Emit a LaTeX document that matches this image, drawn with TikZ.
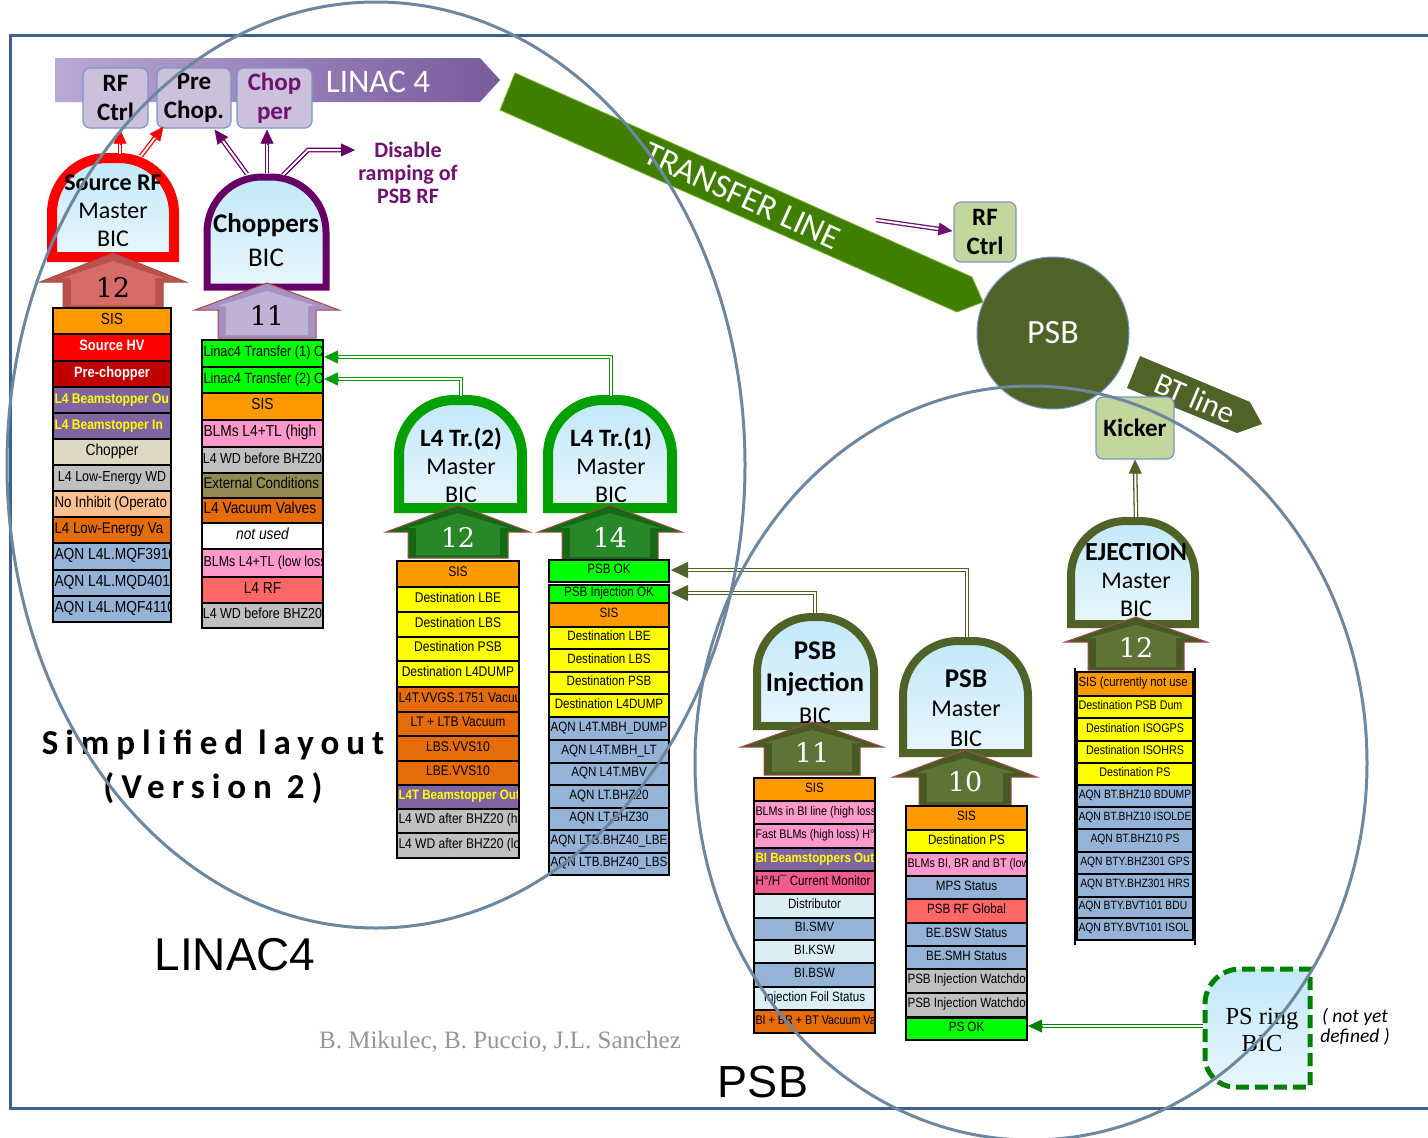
\documentclass[tikz,border=0pt]{standalone}
\usepackage{fontspec}
\usepackage{graphicx}
\usetikzlibrary{arrows.meta,calc}
\newfontfamily\calibf{Carlito}
\newfontfamily\arialf{Liberation Sans}
\newfontfamily\serff{Liberation Serif}
\newfontfamily\numf{DejaVu Serif}
\newfontfamily\spacedf{Carlito}[LetterSpace=20]

\definecolor{frameblue}{RGB}{62,96,140}
\definecolor{ringgray}{RGB}{110,135,160}
\definecolor{cOr}{RGB}{255,153,0}
\definecolor{cRed}{RGB}{255,0,0}
\definecolor{cDRed}{RGB}{192,0,0}
\definecolor{cPurp}{RGB}{128,100,162}
\definecolor{cYel}{RGB}{255,255,0}
\definecolor{cBeige}{RGB}{221,217,195}
\definecolor{cGray}{RGB}{192,192,192}
\definecolor{cPeach}{RGB}{250,192,144}
\definecolor{cDOr}{RGB}{228,108,10}
\definecolor{cBlue}{RGB}{149,179,215}
\definecolor{cGreen}{RGB}{0,255,0}
\definecolor{cPink}{RGB}{255,153,204}
\definecolor{cKhaki}{RGB}{148,138,84}
\definecolor{cSalmon}{RGB}{255,102,102}
\definecolor{cHot}{RGB}{240,90,140}
\definecolor{cIce}{RGB}{219,238,243}
\definecolor{bicred}{RGB}{255,0,0}
\definecolor{bicpurple}{RGB}{102,0,102}
\definecolor{bicgreen}{RGB}{0,160,0}
\definecolor{psbolive}{RGB}{79,98,40}
\definecolor{psgreen}{RGB}{0,128,0}
\definecolor{linacpurple}{RGB}{112,16,112}
\definecolor{tlgreen}{RGB}{64,126,0}
\definecolor{tledge}{RGB}{120,180,40}
\definecolor{boxlav}{RGB}{204,193,218}
\definecolor{boxgreen}{RGB}{195,214,155}
\definecolor{boxedge}{RGB}{120,150,200}
\definecolor{domeTop}{RGB}{195,232,248}
\definecolor{domeBot}{RGB}{232,246,252}
\definecolor{authgray}{RGB}{150,150,150}
\definecolor{banL}{RGB}{186,168,214}
\definecolor{banR}{RGB}{120,90,156}
\definecolor{arrowedge}{RGB}{165,75,70}
\definecolor{redar-base}{RGB}{190,80,76}
\definecolor{redar-in}{RGB}{214,108,103}
\definecolor{redar-txt}{RGB}{0,0,0}
\definecolor{purpar-base}{RGB}{166,146,194}
\definecolor{purpar-in}{RGB}{192,177,215}
\definecolor{purpar-txt}{RGB}{0,0,0}
\definecolor{grnar-base}{RGB}{20,105,20}
\definecolor{grnar-in}{RGB}{40,135,40}
\definecolor{grnar-txt}{RGB}{255,255,255}
\definecolor{olvar-base}{RGB}{72,90,36}
\definecolor{olvar-in}{RGB}{95,115,55}
\definecolor{olvar-txt}{RGB}{255,255,255}

\tikzset{
  frameln/.style={draw=frameblue, line width=3pt},
  ringln/.style={draw=ringgray, line width=3pt},
  pbox/.style={draw=boxedge, fill=boxlav, line width=1.2pt, rounded corners=7pt,
    align=center, inner sep=0pt, font=\calibf\bfseries\fontsize{25}{29}\selectfont},
  gbox/.style={pbox, fill=boxgreen},
  celltext/.style={inner sep=0pt, outer sep=0pt},
  cellline/.style={draw=black, line width=1.1pt},
  numtext/.style={inner sep=0pt, font=\numf\fontsize{27}{27}\selectfont},
  dometext/.style={align=center, inner sep=0pt},
  dbl/.style={line width=1.3pt, double=white, double distance=2pt},
  tipst/.style={line width=0.4pt, -{Triangle[length=14pt,width=13pt]}},
}

% arched BIC outline: left, right, top, bottom, style
\newcommand\dome[5]{%
  \draw[#5, top color=domeTop, bottom color=domeBot]
    (#1,#4) -- (#1,#3+55) arc[start angle=180,end angle=270,radius=55]
    -- (#2-55,#3) arc[start angle=270,end angle=360,radius=55] -- (#2,#4) -- cycle;}

% block arrow with input count: name, cx, tip, head base, head half width,
% body half width, body bottom, colour prefix, label
\newcommand\numarrow[9]{%
  \fill[#8-base, draw=arrowedge, line width=1pt]
    (#2,#3) -- (#2+#5,#4) -- (#2+#6,#4) -- (#2+#6,#7) -- (#2-#6,#7)
    -- (#2-#6,#4) -- (#2-#5,#4) -- cycle;
  \fill[#8-in]
    (#2,#3+8) -- (#2+#5-22,#4-4) -- (#2+#6-8,#4-4) -- (#2+#6-8,#7-3)
    -- (#2-#6+8,#7-3) -- (#2-#6+8,#4-4) -- (#2-#5+22,#4-4) -- cycle;
  \node[numtext, text=#8-txt] (#1) at (#2,#4+5) {#9};}

% input table: left, right, font size, rows top/bottom/fill/text colour/align/text
\newcommand\bictable[4]{%
  \begin{scope}[font=\arialf\fontsize{#3}{#3}\selectfont]
  \foreach \ya/\yb/\fc/\tc/\al/\tx [count=\i] in {#4}{
    \fill[\fc] (#1,\ya) rectangle (#2,\yb);
    \begin{scope}
      \clip (#1,\ya) rectangle (#2,\yb);
      \node[celltext, text=\tc] (cell-#1-\i) at ({(#1+#2)/2},{(\ya+\yb)/2})
        {\scalebox{0.86}[1]{\makebox[\dimexpr(#2pt-#1pt-3pt)*100/86\relax][\al]{\strut\tx}}};
    \end{scope}
    \draw[cellline] (#1,\ya) rectangle (#2,\yb);
  }
  \end{scope}}

\newcommand\dblarrow[3]{%
  \draw[dbl, #1, shorten >=12pt] (#2) -- (#3);
  \draw[tipst, #1] ($(#3)!14pt!(#2)$) -- (#3);}

\newcommand\fs[1]{\fontsize{#1}{#1}\selectfont}

\begin{document}
\begin{tikzpicture}[x=1pt,y=-1pt]
\useasboundingbox (0,0) rectangle (1428,1138);
\clip (0,0) rectangle (1428,1138);
\fill[white] (0,0) rectangle (1428,1138);

% frame
\draw[frameln] (1440,35) -- (10,35) -- (10,1108) -- (1440,1108);

% LINAC 4 banner and its equipment boxes
\shade[left color=banL, right color=banR] (55,58) -- (480,58) -- (500,80) -- (480,102) -- (55,102) -- cycle;
\node[text=white, font=\calibf\fontsize{33}{36}\selectfont, inner sep=0pt] (linacbanner) at (378,82) {LINAC 4};
\node[pbox, minimum width=65, minimum height=60] (rfctrl) at (115.5,98) {RF\\Ctrl};
\node[pbox, minimum width=74, minimum height=60] (prechop) at (194,98) {Pre\\Chop.};
\node[pbox, minimum width=75, minimum height=60, text=linacpurple] (chopper) at (274.5,98) {Chop\\per};

% transfer line
\filldraw[fill=tlgreen, draw=tledge, line width=0.8pt] (515,73) -- (972,277) -- (983,302) -- (957,312) -- (500,110) -- cycle;
\node[text=white, rotate=-24.5, font=\calibf\fontsize{34}{36}\selectfont, inner sep=0pt] (tline) at (742,196) {TRANSFER LINE};

% PSB ring, BT line, kicker and RF
\fill[psbolive] (1140,356) -- (1250,402) -- (1262,424) -- (1237,433) -- (1127,388) -- cycle;
\node[circle, fill=psbolive, draw=boxedge, line width=1pt, minimum size=152, text=white,
  font=\calibf\fontsize{34}{36}\selectfont] (psb) at (1053,333) {PSB};
\node[text=white, rotate=-23, font=\calibf\fontsize{31}{34}\selectfont, inner sep=0pt] (btline) at (1195,398) {BT line};
\node[gbox, minimum width=62, minimum height=60] (rfctrl2) at (985,232) {RF\\Ctrl};
\node[gbox, minimum width=78, minimum height=62] (kicker) at (1135,428) {Kicker};

% ---------- Source RF Master BIC ----------
\dome{52}{174}{158}{257}{draw=bicred, line width=10pt}
\node[dometext, font=\calibf\fontsize{24}{28}\selectfont] (srcbic) at (113,211) {{\bfseries Source RF}\\Master\\BIC};
\numarrow{src12}{113}{253}{282}{73}{50}{308}{redar}{12}
\bictable{53}{171}{16}{
308/334/cOr/black/c/SIS,
334/361/cRed/white/c/{\fs{15}\bfseries Source HV},
361/387/cDRed/white/c/{\fs{15}\bfseries Pre-chopper},
387/413/cPurp/cYel/l/{\fs{14}\bfseries L4 Beamstopper Ou},
413/439/cPurp/cYel/l/{\fs{14}\bfseries L4 Beamstopper In},
439/465/cBeige/black/c/Chopper,
465/491/cGray/black/c/{\fs{14.5}L4 Low-Energy WD},
491/517/cPeach/black/l/{\fs{15.5}No Inhibit (Operato},
517/543/cDOr/black/l/{\fs{15.5}L4 Low-Energy Va},
543/570/cBlue/black/l/AQN L4L.MQF3910,
570/596/cBlue/black/l/AQN L4L.MQD4010,
596/622/cBlue/black/l/AQN L4L.MQF4110}

% ---------- Choppers BIC ----------
\dome{207}{326}{177}{287}{draw=bicpurple, line width=7pt}
\node[dometext, font=\calibf\fontsize{27}{34}\selectfont] (chopbic) at (266,240) {{\bfseries Choppers}\\BIC};
\numarrow{chop11}{267}{283}{310}{72}{49}{338}{purpar}{11}
\bictable{202}{323}{16}{
340/367/cGreen/black/l/{\fs{14.8}Linac4 Transfer (1) O},
367/393/cGreen/black/l/{\fs{14.8}Linac4 Transfer (2) O},
393/420/cOr/black/c/SIS,
420/447/cPink/black/l/BLMs L4+TL (high,
447/473/cGray/black/c/{\fs{14.5}L4 WD before BHZ20},
473/498/cKhaki/black/l/{\fs{15.5}External Conditions},
498/523/cDOr/black/l/L4 Vacuum Valves,
523/549/white/black/c/\itshape not used,
549/577/cPink/black/l/{\fs{14.5}BLMs L4+TL (low loss},
577/603/cSalmon/black/c/L4 RF,
603/628/cGray/black/c/{\fs{14.5}L4 WD before BHZ20}}

% ---------- L4 Tr.(2) Master BIC ----------
\dome{399}{522}{400}{508}{draw=bicgreen, line width=10pt}
\node[dometext, font=\calibf\fontsize{24}{28}\selectfont] (l4t2bic) at (461,465) {{\fontsize{25}{28}\selectfont\bfseries L4 Tr.(2)}\\Master\\BIC};
\numarrow{l4t2n}{458}{505}{532}{72}{50}{558}{grnar}{12}
\bictable{397}{519}{14}{
561/587/cOr/black/c/SIS,
587/612/cYel/black/c/Destination LBE,
612/637/cYel/black/c/Destination LBS,
637/661/cYel/black/c/Destination PSB,
661/687/cYel/black/c/Destination L4DUMP,
687/712/cDOr/black/l/L4T.VVGS.1751 Vacuum,
712/736/cDOr/black/c/LT + LTB Vacuum,
736/761/cDOr/black/c/LBS.VVS10,
761/785/cDOr/black/c/LBE.VVS10,
785/809/cPurp/cYel/l/{\fs{13.5}\bfseries L4T Beamstopper Out},
809/833/cGray/black/l/L4 WD after BHZ20 (h,
833/858/cGray/black/l/L4 WD after BHZ20 (lo}

% ---------- L4 Tr.(1) Master BIC ----------
\dome{548}{672}{400}{508}{draw=bicgreen, line width=10pt}
\node[dometext, font=\calibf\fontsize{24}{28}\selectfont] (l4t1bic) at (611,465) {{\fontsize{25}{28}\selectfont\bfseries L4 Tr.(1)}\\Master\\BIC};
\numarrow{l4t1n}{610}{505}{532}{72}{48}{560}{grnar}{14}
\bictable{549}{669}{13.5}{
560/582/cGreen/black/c/PSB OK,
585/603/cGreen/black/c/PSB Injection OK,
603/627/cOr/black/c/SIS,
627/649/cYel/black/c/Destination LBE,
649/672/cYel/black/c/Destination LBS,
672/694/cYel/black/c/Destination PSB,
694/717/cYel/black/c/Destination L4DUMP,
717/740/cBlue/black/c/AQN L4T.MBH\_DUMP,
740/763/cBlue/black/c/AQN L4T.MBH\_LT,
763/785/cBlue/black/c/AQN L4T.MBV,
785/808/cBlue/black/c/AQN LT.BHZ20,
808/830/cBlue/black/c/AQN LT.BHZ30,
830/853/cBlue/black/c/AQN LTB.BHZ40\_LBE,
853/875/cBlue/black/c/AQN LTB.BHZ40\_LBS}

% ---------- PSB Injection BIC ----------
\dome{757}{874}{617}{726}{draw=psbolive, line width=8pt}
\node[dometext, font=\calibf\fontsize{24}{32}\selectfont] (psbibic) at (815,683) {{\fontsize{27}{32}\selectfont\bfseries PSB}\\{\fontsize{27}{32}\selectfont\bfseries Injection}\\BIC};
\numarrow{psbin}{812}{722}{747}{71}{48}{775}{olvar}{11}
\bictable{754}{875}{13.5}{
778/801/cOr/black/c/SIS,
801/824/cPink/black/l/{\fs{12.5}BLMs in BI line (high loss},
824/848/cPink/black/l/{\fs{12.5}Fast BLMs (high loss) H°},
848/871/cPurp/cYel/l/\bfseries BI Beamstoppers Out,
871/894/cHot/black/l/{H°/H¯ Current Monitor},
894/918/cIce/black/c/Distributor,
918/940/cBlue/black/c/BI.SMV,
940/963/cIce/black/c/BI.KSW,
963/987/cBlue/black/c/BI.BSW,
987/1010/cIce/black/c/Injection Foil Status,
1010/1033/cDOr/black/l/{\fs{12.5}BI + BR + BT Vacuum Va}}

% ---------- PSB Master BIC ----------
\dome{903}{1028}{641}{753}{draw=psbolive, line width=8pt}
\node[dometext, font=\calibf\fontsize{24}{29.5}\selectfont] (psbmbic) at (966,708) {{\fontsize{27}{29.5}\selectfont\bfseries PSB}\\Master\\BIC};
\numarrow{psbmn}{965}{750}{777}{72}{46}{805}{olvar}{10}
\bictable{906}{1027}{13.5}{
806/830/cOr/black/c/SIS,
830/853/cYel/black/c/Destination PS,
853/876/cPink/black/l/{\fs{12.5}BLMs BI, BR and BT (low},
876/899/cBlue/black/c/MPS Status,
899/923/cSalmon/black/c/PSB RF Global,
923/946/cBlue/black/c/BE.BSW Status,
946/969/cBlue/black/c/BE.SMH Status,
969/993/cGray/black/l/PSB Injection Watchdo,
993/1017/cGray/black/l/PSB Injection Watchdo,
1018/1040/cGreen/black/c/PS OK}

% ---------- EJECTION Master BIC ----------
\dome{1071}{1195}{521}{624}{draw=psbolive, line width=8pt}
\node[dometext, font=\calibf\fontsize{24}{28}\selectfont] (ejbic) at (1136,580) {{\fontsize{26}{28}\selectfont\bfseries EJECTION}\\Master\\BIC};
\numarrow{ejn}{1136}{617}{642}{71}{48}{670}{olvar}{12}
\draw[cellline] (1075,668) -- (1075,945) (1195,668) -- (1195,945);
\bictable{1077}{1193}{12}{
672/696/cOr/black/l/{\fs{13.2}SIS (currently not use},
696/718/cYel/black/l/{\fs{12.5}Destination PSB Dum},
718/741/cYel/black/c/{\fs{12.5}Destination ISOGPS},
741/763/cYel/black/c/{\fs{12.5}Destination ISOHRS},
763/785/cYel/black/c/{\fs{12.5}Destination PS},
785/807/cBlue/black/c/AQN BT.BHZ10 BDUMP,
807/829/cBlue/black/c/AQN BT.BHZ10 ISOLDE,
829/852/cBlue/black/c/AQN BT.BHZ10 PS,
852/874/cBlue/black/c/AQN BTY.BHZ301 GPS,
874/897/cBlue/black/c/AQN BTY.BHZ301 HRS,
897/918/cBlue/black/l/AQN BTY.BVT101 BDU,
918/940/cBlue/black/l/AQN BTY.BVT101 ISOL}

% ---------- PS ring BIC (dashed) ----------
\draw[psgreen, line width=5pt, dash pattern=on 13pt off 6pt, top color=domeTop, bottom color=domeBot]
  (1205,1004) arc[start angle=180,end angle=270,radius=35] -- (1310,969) -- (1310,1087)
  -- (1235,1087) arc[start angle=90,end angle=180,radius=30] -- cycle;
\node[align=center, inner sep=0pt, font=\serff\fontsize{24.5}{27}\selectfont] (psring) at (1262,1030) {PS ring\\BIC};
\node[align=center, inner sep=0pt, font=\calibf\itshape\fontsize{19.5}{20}\selectfont] (notyet) at (1355,1027) {( not yet\\defined )};

% ---------- interlock connectors ----------
\coordinate (srcA) at (120,154);
\coordinate (srcB) at (141,156);
\coordinate (rfIn) at ($(rfctrl.south)+(4.5,1)$);
\coordinate (preIn) at ($(prechop.south west)+(7,-2)$);
\dblarrow{bicred}{srcA}{rfIn}
\dblarrow{bicred}{srcB}{preIn}

\coordinate (chopA) at (247,174);
\coordinate (chopB) at (267,173);
\coordinate (chopC) at (283,175);
\coordinate (preIn2) at ($(prechop.south east)+(-17,1)$);
\coordinate (chopIn) at ($(chopper.south)+(-7.5,1)$);
\node[align=center, inner sep=0pt, text=linacpurple, font=\calibf\bfseries\fontsize{22}{23}\selectfont] (disable) at (408,173) {Disable\\ramping of\\PSB RF};
\coordinate (disBend) at (308,150);
\coordinate (disTip) at (355,150);
\dblarrow{bicpurple}{chopA}{preIn2}
\dblarrow{bicpurple}{chopB}{chopIn}
\draw[dbl, bicpurple, shorten >=12pt] (chopC) -- (disBend) -- (disTip);
\draw[tipst, bicpurple] ($(disTip)+(-14,0)$) -- (disTip);

\coordinate (tlArrow) at (876,220);
\coordinate (rf2In) at ($(rfctrl2.west)+(-1,-1)$);
\dblarrow{linacpurple}{tlArrow}{rf2In}

% L4 transfer masters to the Choppers BIC
\coordinate (l4t1top) at (611,396);
\coordinate (l4t2top) at (461,396);
\coordinate (ch1in) at (324,357);
\coordinate (ch2in) at (324,379);
\draw[dbl, bicgreen, shorten >=12pt] (l4t1top) |- (ch1in);
\draw[tipst, bicgreen] ($(ch1in)+(14,0)$) -- (ch1in);
\draw[dbl, bicgreen, shorten >=12pt] (l4t2top) |- (ch2in);
\draw[tipst, bicgreen] ($(ch2in)+(14,0)$) -- (ch2in);

% PSB masters to L4 Tr.(1)
\coordinate (psbmtop) at (967,637);
\coordinate (psbitop) at (815,613);
\coordinate (okin) at (671,570);
\coordinate (injin) at (671,593);
\draw[dbl, psbolive, shorten >=14pt] (psbmtop) |- (okin);
\draw[tipst, psbolive, -{Triangle[length=17pt,width=16pt]}] ($(okin)+(16,0)$) -- (okin);
\draw[dbl, psbolive, shorten >=14pt] (psbitop) |- (injin);
\draw[tipst, psbolive, -{Triangle[length=17pt,width=16pt]}] ($(injin)+(16,0)$) -- (injin);

% ejection to kicker, PS ring to PSB master
\coordinate (ejtop) at (1136,517);
\dblarrow{psbolive}{ejtop}{kicker.south}
\coordinate (psringW) at (1203,1026);
\coordinate (psokIn) at (1028,1026);
\dblarrow{psgreen}{psringW}{psokIn}

% ---------- titles ----------
\node[font=\spacedf\bfseries\fontsize{35}{40}\selectfont, inner sep=0pt] (title) at (213,745) {Simplified layout};
\node[font=\spacedf\bfseries\fontsize{35}{40}\selectfont, inner sep=0pt] (version) at (213,788) {(Version 2)};
\node[font=\arialf\fontsize{46}{50}\selectfont, inner sep=0pt] (linaclabel) at (235,955) {LINAC4};
\node[font=\arialf\fontsize{45}{50}\selectfont, inner sep=0pt] (psblabel) at (763,1082) {PSB};
\node[text=authgray, font=\serff\fontsize{25}{28}\selectfont, inner sep=0pt] (authors) at (500,1042) {B. Mikulec, B. Puccio, J.L. Sanchez};

% ---------- machine areas ----------
\draw[ringln] (376,465) ellipse [x radius=369, y radius=463];
\draw[ringln] (1031,763) ellipse [x radius=336, y radius=377];
\end{tikzpicture}
\end{document}
